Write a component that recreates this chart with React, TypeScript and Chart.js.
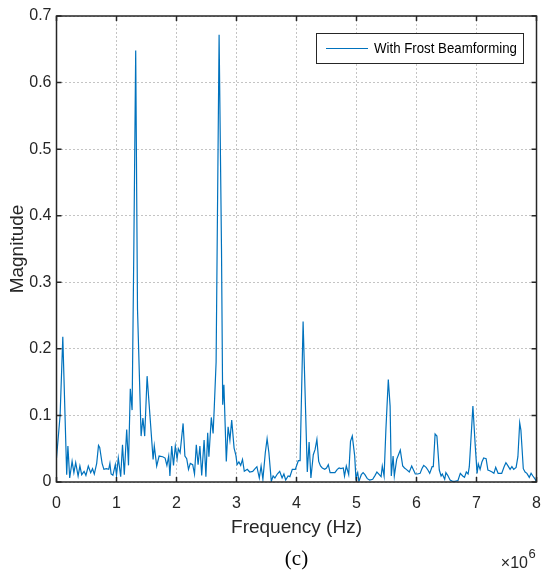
import React, { useEffect, useRef } from "react";
import { Chart, registerables } from "chart.js";

Chart.register(...registerables);

// Frequency in units of 1e6 Hz
const FREQ: number[] = [
  0.0, 0.06, 0.105, 0.17, 0.19, 0.22, 0.26, 0.29, 0.32, 0.36, 0.39, 0.42, 0.46, 0.49, 0.53, 0.57, 0.6, 0.63, 0.67, 0.7,
  0.72, 0.76, 0.79, 0.83, 0.87, 0.89, 0.91, 0.94, 0.98, 1.0, 1.03, 1.07, 1.1, 1.13, 1.17, 1.2, 1.23, 1.26, 1.29, 1.32,
  1.35, 1.41, 1.44, 1.47, 1.51, 1.57, 1.61, 1.63, 1.67, 1.71, 1.77, 1.81, 1.84, 1.87, 1.89, 1.92, 1.95, 1.98, 2.01, 2.03,
  2.06, 2.11, 2.14, 2.17, 2.2, 2.23, 2.27, 2.3, 2.33, 2.36, 2.39, 2.42, 2.46, 2.49, 2.52, 2.54, 2.58, 2.61, 2.63, 2.66,
  2.71, 2.75, 2.77, 2.79, 2.83, 2.86, 2.89, 2.92, 2.96, 2.99, 3.01, 3.04, 3.07, 3.1, 3.13, 3.18, 3.22, 3.27, 3.31, 3.34,
  3.38, 3.41, 3.44, 3.48, 3.51, 3.54, 3.58, 3.61, 3.64, 3.68, 3.72, 3.76, 3.79, 3.82, 3.86, 3.89, 3.93, 3.98, 4.03, 4.06,
  4.11, 4.18, 4.21, 4.24, 4.28, 4.31, 4.34, 4.37, 4.4, 4.43, 4.47, 4.5, 4.53, 4.56, 4.6, 4.64, 4.68, 4.71, 4.74, 4.78,
  4.8, 4.83, 4.87, 4.9, 4.93, 4.97, 4.99, 5.02, 5.04, 5.08, 5.11, 5.14, 5.18, 5.22, 5.27, 5.31, 5.34, 5.38, 5.41, 5.43,
  5.46, 5.49, 5.53, 5.56, 5.58, 5.61, 5.63, 5.67, 5.7, 5.73, 5.77, 5.8, 5.83, 5.88, 5.92, 5.96, 5.98, 6.02, 6.06, 6.09,
  6.12, 6.16, 6.19, 6.22, 6.26, 6.28, 6.31, 6.34, 6.38, 6.41, 6.43, 6.47, 6.49, 6.52, 6.56, 6.6, 6.64, 6.69, 6.73, 6.77,
  6.8, 6.83, 6.86, 6.88, 6.9, 6.94, 6.98, 7.01, 7.03, 7.06, 7.09, 7.12, 7.16, 7.19, 7.22, 7.26, 7.29, 7.32, 7.36, 7.39,
  7.42, 7.46, 7.49, 7.52, 7.56, 7.59, 7.62, 7.66, 7.69, 7.72, 7.74, 7.78, 7.81, 7.84, 7.88, 7.91, 7.94, 7.98, 8.0,
];

const MAGNITUDE: number[] = [
  0.036, 0.1, 0.218, 0.011, 0.054, 0.006, 0.031, 0.014, 0.029, 0.009, 0.024, 0.011, 0.016, 0.01, 0.024, 0.014, 0.02, 0.012, 0.028, 0.055,
  0.052, 0.028, 0.019, 0.02, 0.019, 0.028, 0.012, 0.01, 0.026, 0.01, 0.036, 0.008, 0.056, 0.011, 0.079, 0.025, 0.14, 0.108, 0.36, 0.648,
  0.26, 0.069, 0.096, 0.069, 0.159, 0.084, 0.034, 0.054, 0.024, 0.039, 0.038, 0.036, 0.025, 0.039, 0.009, 0.054, 0.025, 0.054, 0.035, 0.05,
  0.044, 0.088, 0.039, 0.035, 0.019, 0.028, 0.026, 0.012, 0.056, 0.026, 0.054, 0.01, 0.063, 0.008, 0.074, 0.038, 0.097, 0.073, 0.113, 0.18,
  0.672, 0.35, 0.116, 0.146, 0.031, 0.083, 0.063, 0.093, 0.051, 0.04, 0.026, 0.03, 0.025, 0.034, 0.016, 0.019, 0.015, 0.016, 0.02, 0.023,
  0.006, 0.024, 0.004, 0.044, 0.065, 0.044, 0.001, 0.009, 0.006, 0.012, 0.016, 0.006, 0.012, 0.003, 0.009, 0.008, 0.019, 0.019, 0.032, 0.032,
  0.241, 0.015, 0.06, 0.006, 0.041, 0.049, 0.064, 0.031, 0.024, 0.021, 0.019, 0.021, 0.026, 0.014, 0.014, 0.014, 0.019, 0.021, 0.02, 0.021,
  0.009, 0.024, 0.011, 0.061, 0.069, 0.039, 0.006, 0.014, 0.001, 0.011, 0.014, 0.011, 0.005, 0.003, 0.004, 0.01, 0.015, 0.011, 0.008, 0.024,
  0.009, 0.079, 0.154, 0.114, 0.009, 0.039, 0.009, 0.034, 0.041, 0.048, 0.024, 0.021, 0.019, 0.015, 0.024, 0.016, 0.012, 0.012, 0.013, 0.02,
  0.025, 0.022, 0.018, 0.013, 0.023, 0.023, 0.072, 0.069, 0.018, 0.009, 0.012, 0.004, 0.014, 0.01, 0.003, 0.001, 0.001, 0.002, 0.013, 0.009,
  0.007, 0.015, 0.012, 0.023, 0.053, 0.114, 0.053, 0.013, 0.027, 0.019, 0.03, 0.036, 0.035, 0.018, 0.017, 0.015, 0.013, 0.022, 0.013, 0.013,
  0.013, 0.023, 0.029, 0.025, 0.019, 0.023, 0.019, 0.022, 0.038, 0.089, 0.078, 0.02, 0.015, 0.013, 0.007, 0.013, 0.009, 0.004, 0.0,
];

const SERIES_LABEL = "With Frost Beamforming";
const X_TITLE = "Frequency (Hz)";
const Y_TITLE = "Magnitude";
const X_EXPONENT = "6";
const CAPTION = "(c)";

const LINE_COLOR = "#0072BD";
const AXIS_COLOR = "#262626";
const FONT = "'Liberation Sans', Arial, Helvetica, sans-serif";

const framePlugin = {
  id: "matlabFrame",
  afterDraw(chart: any) {
    const { ctx, chartArea } = chart;
    const { left, right, top, bottom } = chartArea;
    const xs = chart.scales.x;
    const ys = chart.scales.y;
    ctx.save();
    // frame
    ctx.strokeStyle = AXIS_COLOR;
    ctx.lineWidth = 1.5;
    ctx.strokeRect(left, top, right - left, bottom - top);
    // inward ticks
    const tl = 5;
    ctx.beginPath();
    xs.ticks.forEach((t: any) => {
      const px = xs.getPixelForValue(t.value);
      ctx.moveTo(px, bottom);
      ctx.lineTo(px, bottom - tl);
      ctx.moveTo(px, top);
      ctx.lineTo(px, top + tl);
    });
    ys.ticks.forEach((t: any) => {
      const py = ys.getPixelForValue(t.value);
      ctx.moveTo(left, py);
      ctx.lineTo(left + tl, py);
      ctx.moveTo(right, py);
      ctx.lineTo(right - tl, py);
    });
    ctx.stroke();

    // legend
    const lx = 316, ly = 33, lw = 207, lh = 30;
    ctx.fillStyle = "#ffffff";
    ctx.fillRect(lx, ly, lw, lh);
    ctx.lineWidth = 1;
    ctx.strokeStyle = AXIS_COLOR;
    ctx.strokeRect(lx + 0.5, ly + 0.5, lw, lh);
    ctx.strokeStyle = LINE_COLOR;
    ctx.lineWidth = 1.2;
    ctx.beginPath();
    ctx.moveTo(326, ly + lh / 2 + 0.5);
    ctx.lineTo(368, ly + lh / 2 + 0.5);
    ctx.stroke();
    ctx.fillStyle = "#000000";
    ctx.font = `15px ${FONT}`;
    ctx.textBaseline = "middle";
    ctx.textAlign = "left";
    ctx.fillText(SERIES_LABEL, 374, ly + lh / 2 + 1, 143);

    // x exponent
    ctx.fillStyle = AXIS_COLOR;
    ctx.font = `16px ${FONT}`;
    ctx.textAlign = "right";
    ctx.textBaseline = "alphabetic";
    ctx.fillText("\u00d710", 528, 568);
    ctx.font = `13px ${FONT}`;
    ctx.textAlign = "left";
    ctx.fillText(X_EXPONENT, 528.5, 558);

    // caption
    ctx.fillStyle = "#000000";
    ctx.font = `21px 'Liberation Serif', 'Times New Roman', serif`;
    ctx.textAlign = "center";
    ctx.textBaseline = "middle";
    ctx.fillText(CAPTION, (left + right) / 2, 559);
    ctx.restore();
  },
};

export default function App() {
  const ref = useRef<HTMLCanvasElement | null>(null);
  useEffect(() => {
    if (!ref.current) return;
    const points = FREQ.map((f, i) => ({ x: f, y: MAGNITUDE[i] }));
    const gridCfg = { color: "#c4c4c4", lineWidth: 1, drawTicks: false };
    const chart = new Chart(ref.current, {
      type: "line",
      data: {
        datasets: [
          {
            label: SERIES_LABEL,
            data: points,
            borderColor: LINE_COLOR,
            borderWidth: 1.2,
            pointRadius: 0,
            tension: 0,
            fill: false,
          },
        ],
      },
      options: {
        animation: false,
        responsive: false,
        devicePixelRatio: 1,
        layout: { padding: { top: 16, right: 4.5, left: 0, bottom: 0 } },
        plugins: { legend: { display: false }, tooltip: { enabled: false } },
        scales: {
          x: {
            type: "linear",
            min: 0,
            max: 8,
            grid: gridCfg,
            border: { display: false, dash: [2, 2] },
            ticks: {
              stepSize: 1,
              padding: 12,
              color: AXIS_COLOR,
              font: { family: FONT, size: 16 },
              maxRotation: 0,
              callback: (v: any) => String(v),
            },
            title: {
              display: true,
              text: X_TITLE,
              color: AXIS_COLOR,
              font: { family: FONT, size: 19 },
              padding: { top: 0, bottom: 38 },
            },
            afterFit: (s: any) => {
              s.height = 95;
              s.paddingLeft = 0;
              s.paddingRight = 0;
            },
          },
          y: {
            min: 0,
            max: 0.7,
            grid: gridCfg,
            border: { display: false, dash: [2, 2] },
            ticks: {
              stepSize: 0.1,
              padding: 5,
              color: AXIS_COLOR,
              font: { family: FONT, size: 16 },
              callback: (v: any) => (Number(v) === 0 ? "0" : Number(v).toFixed(1)),
            },
            title: {
              display: true,
              text: Y_TITLE,
              color: AXIS_COLOR,
              font: { family: FONT, size: 19 },
              padding: { top: 6, bottom: 0 },
            },
            afterFit: (s: any) => {
              s.width = 56.5;
              s.paddingTop = 0;
              s.paddingBottom = 0;
            },
          },
        },
      },
      plugins: [framePlugin],
    });
    return () => chart.destroy();
  }, []);
  return (
    <div style={{ position: "absolute", left: 0, top: 0, width: 541, height: 577, background: "#fff" }}>
      <canvas ref={ref} width={541} height={577} style={{ display: "block" }} />
    </div>
  );
}
